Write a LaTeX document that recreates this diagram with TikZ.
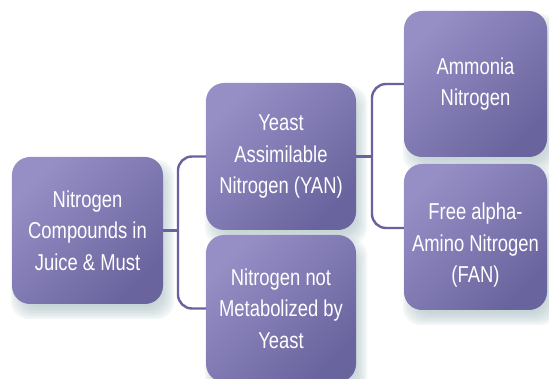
\documentclass[tikz,border=0pt]{standalone}
\usepackage{fontspec}
\setmainfont[FakeStretch=0.8]{Liberation Sans}
\usetikzlibrary{backgrounds,calc}
\definecolor{boxlight}{RGB}{150,143,198}
\definecolor{boxdark}{RGB}{106,100,158}
\definecolor{linec}{RGB}{105,98,158}
\definecolor{shadowc}{RGB}{172,192,196}
\begin{document}
\begin{tikzpicture}[x=1pt,y=-1pt,
  box/.style={rounded corners=18pt, top color=boxlight, bottom color=boxdark,
    shading angle=45, text=white, align=center, inner sep=0pt,
    font=\fontsize{23}{31.5}\selectfont},
  conn/.style={draw=linec, line width=2.4pt, rounded corners=14pt}]
\useasboundingbox (0,0) rectangle (549,379);

\node[box, minimum width=151pt, minimum height=147pt] (b1) at (87.5,230.5)
  {Nitrogen\\Compounds in\\Juice \& Must};
\node[box, minimum width=150pt, minimum height=147pt] (b2) at (281,156.5)
  {Yeast\\Assimilable\\Nitrogen (YAN)};
\node[box, minimum width=150pt, minimum height=147pt] (b3) at (281,308.5)
  {Nitrogen not\\Metabolized by\\Yeast};
\node[box, minimum width=143pt, minimum height=146pt] (b4) at (475.5,84)
  {Ammonia\\Nitrogen};
\node[box, minimum width=143pt, minimum height=146pt] (b5) at (475.5,237)
  {\raisebox{-8pt}[\height][\depth]{\begin{tabular}{@{}c@{}}Free alpha-\\Amino Nitrogen\\(FAN)\end{tabular}}};

\begin{scope}[on background layer]
  \foreach \n in {b1,b2,b3,b4,b5}{
    \foreach \k in {-6,-4,...,6}{
      \fill[shadowc, fill opacity=0.14, rounded corners=18pt]
        ($(\n.north west)+(5-\k,9-\k)$) rectangle ($(\n.south east)+(5+\k,9+\k)$);
    }
  }
\end{scope}

\coordinate (s1) at (178,230.5);
\coordinate (s2) at (372,156.5);
\draw[conn] (b1.east) -- (s1);
\draw[conn] (b2.west) -| (s1) |- (b3.west);
\draw[conn] (b2.east) -- (s2);
\draw[conn] (b4.west) -| (s2) |- ($(b5.west)+(0,-9)$);
\end{tikzpicture}
\end{document}
